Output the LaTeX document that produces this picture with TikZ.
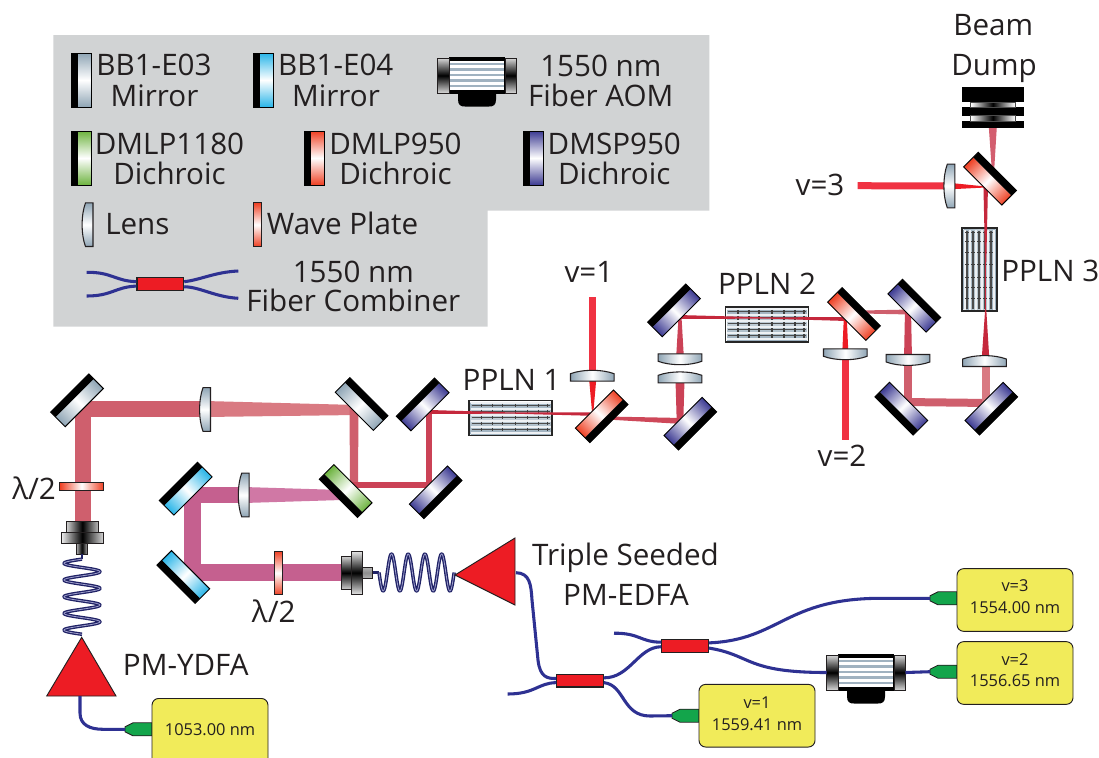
\documentclass[tikz,border=0pt]{standalone}
\usepackage{fontspec}
\setmainfont{Open Sans}
\usetikzlibrary{calc}
\definecolor{ink}{HTML}{231F20}
\definecolor{legendgray}{HTML}{D1D3D4}
\definecolor{cE}{HTML}{8FA5B5}
\definecolor{cF}{HTML}{29B5E8}
\definecolor{cG}{HTML}{6DB33F}
\definecolor{cR}{HTML}{EE4023}
\definecolor{cP}{HTML}{3C3A92}
\definecolor{fib}{HTML}{2E3192}
\definecolor{redc}{HTML}{ED1C24}
\definecolor{seed}{HTML}{F1EB5A}
\definecolor{grn}{HTML}{13A54B}
\definecolor{bY}{HTML}{CF5F6D}
\definecolor{bYl}{HTML}{D97A82}
\definecolor{bM}{HTML}{C5608F}
\definecolor{bMl}{HTML}{D078A5}
\definecolor{bD}{HTML}{CB4256}
\definecolor{bT}{HTML}{C5283C}
\definecolor{bV}{HTML}{F03242}
\tikzset{
  lab/.style={font=\fontsize{22.2}{26}\selectfont,text=ink,anchor=base,inner sep=0pt},
  labl/.style={lab,anchor=base west},
  small/.style={font=\fontsize{12.3}{16.4}\selectfont,text=ink,align=center,inner sep=0pt},
  fiber/.style={draw=fib,line width=2.3pt},
  coupler/.style={draw=ink,fill=redc,line width=.9pt,minimum width=35pt,minimum height=9.6pt,inner sep=0pt},
  seedbox/.style={draw=ink,fill=seed,line width=.7pt,rounded corners=5pt,minimum width=87pt,minimum height=47pt,inner sep=0pt},
  amp/.style={fill=redc,draw=ink,line width=.7pt,line join=miter}
}
% optics, drawn in a local frame: long axis vertical, front face to the right
\newcommand\mirr[5]{\coordinate (#1) at (#2,#3);
  \begin{scope}[transform canvas={shift={(#2,#3)},rotate=#4}]
    \shade[top color=#5,bottom color=#5,middle color=white] (-3.3,-27) rectangle (10.3,27);
    \fill[black] (-10.3,-27) rectangle (-3.3,27);
    \draw[black,line width=.7pt] (-10.3,-27) rectangle (10.3,27);
  \end{scope}}
\newcommand\lensc[4]{\coordinate (#1) at (#2,#3);
  \begin{scope}[transform canvas={shift={(#2,#3)},rotate=#4}]
    \shade[draw=ink,line width=.8pt,top color=cE,bottom color=cE,middle color=white]
      (5.5,-21.8) -- (5.5,21.8) -- (-2,21.8) .. controls (-6.5,10) and (-6.5,-10) .. (-2,-21.8) -- cycle;
  \end{scope}}
\newcommand\wplate[4]{\coordinate (#1) at (#2,#3);
  \begin{scope}[transform canvas={shift={(#2,#3)},rotate=#4}]
    \shade[draw=ink,line width=.8pt,top color=cR,bottom color=cR,middle color=white] (-4.2,-21.8) rectangle (4.2,21.8);
  \end{scope}}
\newcommand\ppln[4]{\coordinate (#1) at (#2,#3);
  \begin{scope}[transform canvas={shift={(#2,#3)},rotate=#4}]
    \fill[fill=white] (-41.5,-17.5) rectangle (41.5,17.5);
    \shade[top color=cE!90!white,bottom color=cE!90!white,middle color=cE!55!white] (-40,-16) rectangle (40,16);
    \foreach \r in {-15,-9.5,-3.5,2.5,8.5,14.5}{\draw[white!85!cE,line width=1.5pt] (-40,\r) -- (40,\r);}
    \foreach \r in {-12.5,-6.5,-0.5,5.5,11.5}{\draw[black!70,line width=.9pt] (-39,\r) -- (39,\r);}
    \foreach \c in {-29,-18,-8,5,17,28,37}{\foreach \r in {-12.5,-6.5,-0.5,5.5,11.5}{\draw[black!75,line width=1pt] (\c,\r-1.8) -- (\c,\r+1.8);}}
    \draw[black!85,line width=1.2pt] (-41.5,-17.5) rectangle (41.5,17.5);
  \end{scope}}
\newcommand\aomc[3]{\coordinate (#1) at (#2,#3);
  \begin{scope}[shift={(#2,#3)}]
    \fill[black] (-19,18) -- (19,18) -- (19,24) .. controls (19,30) and (16,31) .. (12,31) -- (-12,31) .. controls (-16,31) and (-19,30) .. (-19,24) -- cycle;
    \fill[black] (-28,-19) rectangle (28,18.5);
    \fill[white] (-27,-15) rectangle (27,14.5);
    \foreach \r in {-11.5,-6,-0.5,5,10.5}{\draw[cE!85!white,line width=1.7pt] (-27,\r) -- (27,\r);}
    \shade[draw=ink,line width=.6pt,top color=black!15,bottom color=black!15,middle color=black] (-39.5,-17.5) rectangle (-28,17.5);
    \shade[draw=ink,line width=.6pt,top color=black!15,bottom color=black!15,middle color=black] (28,-17.5) rectangle (39.5,17.5);
  \end{scope}}
\newcommand\fconn[3]{\coordinate (#1) at (#2,#3);
  \fill[fill=grn,draw=ink,line width=.6pt] (#2,#3-2.5) -- (#2+8,#3-6.5) -- (#2+27,#3-6.5) -- (#2+27,#3+6.5) -- (#2+8,#3+6.5) -- (#2,#3+2.5) -- cycle;}
% tapered beam between two named points, widths in px
\newcommand\beam[5]{\fill[#5] ($(#1)!{#3*0.375pt}!90:(#2)$) -- ($(#2)!{#4*0.375pt}!-90:(#1)$) -- ($(#2)!{#4*0.375pt}!90:(#1)$) -- ($(#1)!{#3*0.375pt}!-90:(#2)$) -- cycle;}
\newcommand\coilstroke[1]{\draw[color=fib!70!black,line width=2.6pt,line join=round] #1;\draw[color=white!55!fib,line width=.6pt] #1;}
\begin{document}
\begin{tikzpicture}[x=0.75pt,y=-0.75pt]
\useasboundingbox (0,0) rectangle (1099,757);
\fill[white] (0,0) rectangle (1099,757);
% legend panel
\fill[legendgray] (53.3,35) -- (709.3,35) -- (709.3,210.7) -- (487.7,210.7) -- (487.7,326.7) -- (53.3,326.7) -- cycle;
\mirr{lgE}{81.3}{80}{0}{cE}
\mirr{lgF}{263.3}{80}{0}{cF}
\mirr{lgG}{81.3}{158}{0}{cG}
\mirr{lgR}{314.5}{158}{0}{cR}
\mirr{lgP}{533.5}{158}{0}{cP}
\lensc{lgL}{87.5}{224.7}{0}
\wplate{lgW}{257.7}{224.7}{0}
\aomc{lgA}{477}{75.5}
\node[lab] (t1) at (154,75) {BB1-E03};
\node[lab] (t2) at (154.5,106) {Mirror};
\node[lab] (t3) at (335.8,75) {BB1-E04};
\node[lab] (t4) at (336,106) {Mirror};
\node[lab] (t5) at (600.8,76.7) {1550 nm};
\node[lab] (t6) at (600.8,106.7) {Fiber AOM};
\node[lab] (t7) at (169.5,154) {DMLP1180};
\node[lab] (t8) at (169.5,184) {Dichroic};
\node[lab] (t9) at (395.5,154) {DMLP950};
\node[lab] (t10) at (395.5,184) {Dichroic};
\node[lab] (t11) at (614.3,154) {DMSP950};
\node[lab] (t12) at (614.3,184) {Dichroic};
\node[labl] (t13) at (105,234) {Lens};
\node[labl] (t14) at (266.7,234) {Wave Plate};
\node[lab] (t15) at (353.3,282) {1550 nm};
\node[lab] (t16) at (353.3,311) {Fiber Combiner};
\node[coupler] (lgC) at (160.3,284.2) {};
\coordinate (lgC1) at (86.7,272.3); \coordinate (lgC2) at (86.7,296);
\coordinate (lgC3) at (238.3,271); \coordinate (lgC4) at (238.3,298.3);
\draw[fiber] (lgC1) .. controls (112,272) and (115,281) .. ([yshift=1.9pt]lgC.west);
\draw[fiber] (lgC2) .. controls (112,296) and (115,287) .. ([yshift=-1.4pt]lgC.west);
\draw[fiber] ([yshift=1.9pt]lgC.east) .. controls (200,280) and (215,272) .. (lgC3);
\draw[fiber] ([yshift=-1.9pt]lgC.east) .. controls (200,287) and (215,297) .. (lgC4);
% PPLN crystals
\ppln{pp1}{510.5}{418}{0}
\ppln{pp2}{767}{324.2}{0}
\ppln{pp3}{979.5}{269.5}{90}
% beam path points
\coordinate (a1) at (83,523); \coordinate (a2) at (83,401); \coordinate (a3) at (75,409);
\coordinate (a4) at (205,409); \coordinate (a5) at (357,410);
\coordinate (a6) at (354,405); \coordinate (a7) at (354,487);
\coordinate (a8) at (350,485); \coordinate (a9) at (432,485);
\coordinate (a10) at (429,488); \coordinate (a11) at (429,410);
\coordinate (a12) at (430,412); \coordinate (a13) at (510,413); \coordinate (a14) at (590,414);
\coordinate (b1) at (341,572.5); \coordinate (b2) at (180,572.5);
\coordinate (b3) at (192.5,581); \coordinate (b4) at (192.5,487);
\coordinate (b5) at (184,495); \coordinate (b6) at (244,495); \coordinate (b7) at (342,495);
\coordinate (c1) at (592.7,297); \coordinate (c2) at (592.7,372);
\coordinate (c3) at (592.7,380); \coordinate (c4) at (592.7,414);
\coordinate (d1) at (607,418); \coordinate (d2) at (683,421);
\coordinate (d3) at (680,423); \coordinate (d4) at (680,380);
\coordinate (d5) at (680,360); \coordinate (d6) at (680,317);
\coordinate (d7) at (678,317); \coordinate (d8) at (767,318); \coordinate (d9) at (847,319);
\coordinate (e1) at (845.3,440); \coordinate (e2) at (845.3,352); \coordinate (e3) at (845.3,318);
\coordinate (f1) at (862,312); \coordinate (f2) at (911,312);
\coordinate (f3) at (908,309); \coordinate (f4) at (908,360); \coordinate (f5) at (908,406);
\coordinate (f6) at (904,402); \coordinate (f7) at (989.5,403);
\coordinate (f8) at (985.5,406); \coordinate (f9) at (985.5,362); \coordinate (f10) at (985.7,310);
\coordinate (f11) at (985.7,262); \coordinate (f12) at (985.7,187);
\coordinate (g1) at (857.7,185.7); \coordinate (g2) at (946,186); \coordinate (g3) at (985.5,187);
\coordinate (h1) at (992.8,127); \coordinate (h2) at (993,173);
% beams
\beam{a1}{a2}{16}{16}{bY}
\beam{a3}{a4}{16}{16}{bY}
\beam{a4}{a5}{16}{10}{bYl}
\beam{a6}{a7}{9}{8}{bY}
\beam{a8}{a9}{6}{6}{bD}
\beam{a10}{a11}{6}{5.5}{bD}
\beam{b1}{b2}{17}{17}{bM}
\beam{b3}{b4}{17}{17}{bM}
\beam{b5}{b6}{16}{16}{bM}
\beam{b6}{b7}{16}{10}{bMl}
\beam{c1}{c2}{7}{7}{bV}
\beam{c3}{c4}{7}{1}{redc}
\beam{a12}{a13}{4}{1.2}{bT}
\beam{a13}{a14}{1.2}{3.5}{bT}
\beam{d1}{d2}{3}{6}{bT!85!white}
\beam{d3}{d4}{6.5}{9}{bD}
\beam{d5}{d6}{8}{3}{bD}
\beam{d7}{d8}{4}{1.2}{bT}
\beam{d8}{d9}{1.2}{4}{bT}
\beam{e1}{e2}{7}{7}{bV}
\beam{e2}{e3}{6}{3}{redc}
\beam{f1}{f2}{3}{5}{bY}
\beam{f3}{f4}{6}{8}{bD}
\beam{f4}{f5}{8}{8}{bY}
\beam{f6}{f7}{8}{8}{bY}
\beam{f8}{f9}{8}{8}{bYl}
\beam{f9}{f10}{8}{1.2}{bT}
\beam{f10}{f11}{1.2}{1.2}{bT}
\beam{f11}{f12}{1.2}{4.5}{bT}
\beam{g1}{g2}{7}{7}{bV}
\beam{g2}{g3}{7}{1}{redc}
\beam{h1}{h2}{8}{2}{bD!85!white}
% optics on the table
\mirr{m1}{77}{400.3}{-45}{cE}
\mirr{m2}{361.6}{404}{-135}{cE}
\mirr{m3}{345.7}{491}{45}{cG}
\mirr{m4}{185.7}{488.7}{-45}{cF}
\mirr{m5}{183.3}{577}{45}{cF}
\mirr{m6}{422.7}{404.4}{-45}{cP}
\mirr{m7}{435.7}{492.3}{135}{cP}
\mirr{m8}{601.7}{416.3}{135}{cR}
\mirr{m9}{690.3}{423.7}{135}{cP}
\mirr{m10}{674}{310.4}{-45}{cP}
\mirr{m11}{854}{314}{-135}{cR}
\mirr{m12}{914.3}{305.7}{-135}{cP}
\mirr{m13}{901.3}{408.7}{45}{cP}
\mirr{m14}{991.3}{408.7}{135}{cP}
\mirr{m15}{990}{178.7}{-135}{cR}
\lensc{l1}{205}{409.5}{0}
\lensc{l2}{243.7}{495}{0}
\lensc{l3}{592.3}{375.7}{-90}
\lensc{l4}{680}{359.3}{90}
\lensc{l5}{680}{377.3}{-90}
\lensc{l6}{845.3}{354.3}{90}
\lensc{l7}{908}{360}{90}
\lensc{l8}{984.5}{361}{-90}
\lensc{l9}{949.3}{186}{0}
\wplate{w1}{81.7}{486.7}{90}
\wplate{w2}{278.7}{573}{0}
% beam dump
\coordinate (dump) at (993,107);
\fill[black] (962,86.7) rectangle (1023.7,102.3);
\fill[black] (962,107.3) rectangle (1023.7,115.7);
\fill[black] (962,121.3) rectangle (1023.7,127.7);
\shade[draw=black!70,line width=.7pt,left color=white,right color=white,middle color=black] (970.7,102.3) rectangle (1015,107.3);
\shade[draw=black!70,line width=.7pt,left color=white,right color=white,middle color=black] (970.7,115.7) rectangle (1015,121.3);
% collimators
\coordinate (colA) at (82,554);
\shade[draw=ink,line width=.7pt,left color=black!15,right color=black!25,middle color=black] (66,521.7) rectangle (98.7,532.3);
\shade[draw=ink,line width=.7pt,left color=black!5,right color=black!15,middle color=black] (61,532.3) rectangle (103.7,543.3);
\shade[draw=ink,line width=.7pt,left color=black!30,right color=black!30,middle color=black] (76.3,543.3) rectangle (87.7,554);
\coordinate (colB) at (372.7,572.5);
\shade[draw=ink,line width=.7pt,top color=black!20,bottom color=black!20,middle color=black] (341,556.7) rectangle (351.3,589);
\shade[draw=ink,line width=.7pt,top color=black!10,bottom color=black!10,middle color=black] (351.3,551.3) rectangle (362.3,594.3);
\shade[draw=ink,line width=.7pt,top color=black!30,bottom color=black!30,middle color=black!45] (362.3,567.3) rectangle (372.7,578.3);
% coils
\coordinate (coilA) at (82,559.1);
\coordinate (coilB) at (379,572.5);
\draw[color=fib!70!black,line width=1.8pt] (colA) -- (coilA);
\draw[color=fib!70!black,line width=1.8pt] (colB) -- (coilB);
\coilstroke{plot[smooth,domain=-90:1530,samples=130,variable=\t] ({82-18*cos(\t)},{563.3+\t/360*16.7})}
\coilstroke{plot[smooth,domain=0:1620,samples=130,variable=\t] ({379+\t/360*16.7},{572.5-18.5*sin(\t+180)})}
% amplifiers
\coordinate (ydfaIn) at (80,696);
\coordinate (edfaOut) at (516,572.7);
\draw[amp] (81.7,637.3) -- (116,696) -- (46.7,696) -- cycle;
\draw[amp] (455,575) -- (515,538) -- (515,605) -- cycle;
% fibre network
\node[coupler] (cp1) at (580,680.5) {};
\node[coupler] (cp2) at (685,646.2) {};
\coordinate (tail1) at (507.6,694);
\coordinate (tail2) at (614,633.2);
\aomc{aom}{866}{672.5}
\fconn{s0}{125}{729.3}
\fconn{s1}{672}{715.7}
\fconn{s2}{930}{671.7}
\fconn{s3}{930}{598.3}
\draw[fiber] (ydfaIn) -- (80,713) .. controls (80,725) and (90,729.3) .. (103,729.3) -- (s0);
\draw[fiber] (edfaOut) .. controls (530,573) and (531,585) .. (532,600) -- (538,660) .. controls (540,678) and (548,678.5) .. ([yshift=1.5pt]cp1.west);
\draw[fiber] (tail1) .. controls (535,694) and (538,683) .. ([yshift=-1.6pt]cp1.west);
\draw[fiber] ([yshift=2pt]cp1.east) .. controls (630,678) and (638,647) .. ([yshift=-.4pt]cp2.west);
\draw[fiber] ([yshift=-1.6pt]cp1.east) .. controls (625,685) and (622,716) .. (650,716) -- (s1);
\draw[fiber] (tail2) .. controls (640,633) and (640,642) .. ([yshift=3pt]cp2.west);
\draw[fiber] ([yshift=2.5pt]cp2.east) .. controls (780,640) and (785,598) .. (882,598.3) -- (s3);
\draw[fiber] ([yshift=-1.4pt]cp2.east) .. controls (752,655) and (745,672.5) .. ([shift={(-39.5,0)}]aom);
\draw[fiber] ([shift={(39.5,0)}]aom) -- (s2);
% seed boxes
\node[seedbox] (bx3) at (1015,600) {};
\node[seedbox] (bx2) at (1015,673) {};
\node[seedbox] (bx1) at (757,715.7) {};
\node[seedbox,minimum height=50pt] (bx0) at (210,731.8) {};
\node[small,anchor=base] (s3a) at (1015,591.7) {v=3};
\node[small,anchor=base] (s3b) at (1015,613.3) {1554.00 nm};
\node[small,anchor=base] (s2a) at (1015,665) {v=2};
\node[small,anchor=base] (s2b) at (1015,686.7) {1556.65 nm};
\node[small,anchor=base] (s1a) at (757,708.3) {v=1};
\node[small,anchor=base] (s1b) at (757,730) {1559.41 nm};
\node[small,anchor=base] (s0a) at (210,735) {1053.00 nm};
% labels
\node[lab] (n1) at (511.7,390) {PPLN 1};
\node[lab] (n2) at (767,294) {PPLN 2};
\node[labl] (n3) at (1001,281) {PPLN 3};
\node[lab] (v1) at (589,282.7) {v=1};
\node[lab] (v2) at (842,466) {v=2};
\node[lab] (v3) at (820,195) {v=3};
\node[lab] (bd1) at (993.3,35) {Beam};
\node[lab] (bd2) at (994,75) {Dump};
\node[labl] (la1) at (12,499.3) {λ/2};
\node[labl] (la2) at (251.7,622) {λ/2};
\node[labl] (yd) at (122.7,675) {PM-YDFA};
\node[lab] (ts1) at (625.5,565) {Triple Seeded};
\node[lab] (ts2) at (626,605) {PM-EDFA};
\end{tikzpicture}
\end{document}
